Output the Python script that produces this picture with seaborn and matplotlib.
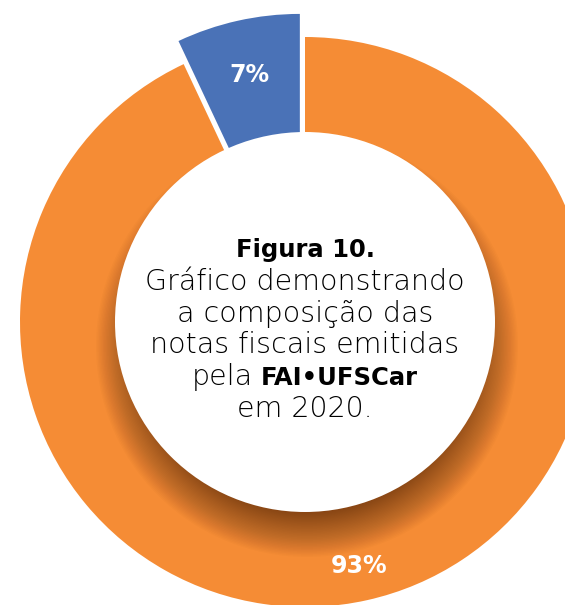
import numpy as np
import matplotlib.pyplot as plt
import seaborn as sns
from matplotlib.patches import Circle

# data
categories = ["Parcela menor", "Parcela maior"]
shares = [7, 93]
slice_colors = ["#4A72B7", "#F58C35"]
explode = [0.083, 0.0]

title_bold = "Figura 10."
body_lines = ["Gráfico demonstrando", "a composição das", "notas fiscais emitidas"]
org_prefix = "pela"
org_name = "FAI•UFSCar"
last_line = "em 2020."

sns.set_theme(style="white")
plt.rcParams['font.family'] = ['DejaVu Sans']

W, H = 565, 605
CX, CY, R = 305, 322, 285   # pie centre / radius in pixels
HOLE = 190 / R

fig = plt.figure(figsize=(W / 100, H / 100), dpi=100)
fig.patch.set_facecolor("white")
ax = fig.add_axes([0, 0, 1, 1])

# full pie, the white disc on top turns it into a ring
pal = sns.color_palette(slice_colors)
wedges, texts, autotexts = ax.pie(
    shares, colors=pal, startangle=90, counterclock=True, explode=explode,
    radius=1, wedgeprops=dict(linewidth=0),
    autopct='%d%%', pctdistance=0.85,
    textprops=dict(color="white", fontsize=17, fontweight="bold"))
for t in autotexts:
    t.set_zorder(6)

# pull the small label a bit inward (it sits on the exploded slice)
x, y = autotexts[0].get_position()
autotexts[0].set_position((x * 0.95, y * 0.95))
x, y = autotexts[1].get_position()
autotexts[1].set_position((x * 1.03, y * 1.03))


def px(xp, yp):
    return (xp - CX) / R, (CY - yp) / R


# blurred drop shadow of the inner disc (offset downwards)
sx, sy = px(CX + 2, CY + 24)
core, blur = 183, 28
n = 40
for i in range(n):
    rr = (core + blur - 2 * blur * i / n) / R
    ax.add_patch(Circle((sx, sy), rr, facecolor="#2a1400", edgecolor="none",
                        alpha=0.021, zorder=3))
ax.add_patch(Circle((0, 0), HOLE, facecolor="white", edgecolor="none", zorder=4))

txt_color = "#000000"
fs = 20.5
fs_b = 17.5
light = 200
ax.text(*px(CX, 257), title_bold, ha="center", va="baseline", fontsize=fs_b,
        fontweight="bold", color=txt_color, zorder=5)
for yb, line in zip([290, 322, 353], body_lines):
    ax.text(*px(CX, yb), line, ha="center", va="baseline", fontsize=fs,
            fontweight=light, color=txt_color, zorder=5)
ax.text(*px(CX, 417), last_line, ha="center", va="baseline", fontsize=fs,
        fontweight=light, color=txt_color, zorder=5)

# mixed-weight line, centred as a whole
rend = fig.canvas.get_renderer()
t1 = ax.text(0, 0, org_prefix, ha="left", va="baseline", fontsize=fs,
             fontweight=light, color=txt_color, zorder=5)
t2 = ax.text(0, 0, org_name, ha="left", va="baseline", fontsize=fs_b,
             fontweight="bold", color=txt_color, zorder=5)
w1 = t1.get_window_extent(rend).width
w2 = t2.get_window_extent(rend).width
gap = 8
left = CX - (w1 + gap + w2) / 2
t1.set_position(px(left, 385))
t2.set_position(px(left + w1 + gap, 385))

ax.set_xlim(-CX / R, (W - CX) / R)
ax.set_ylim((CY - H) / R, CY / R)
ax.set_aspect("equal")
ax.axis("off")

fig.savefig("out.png", dpi=100)
